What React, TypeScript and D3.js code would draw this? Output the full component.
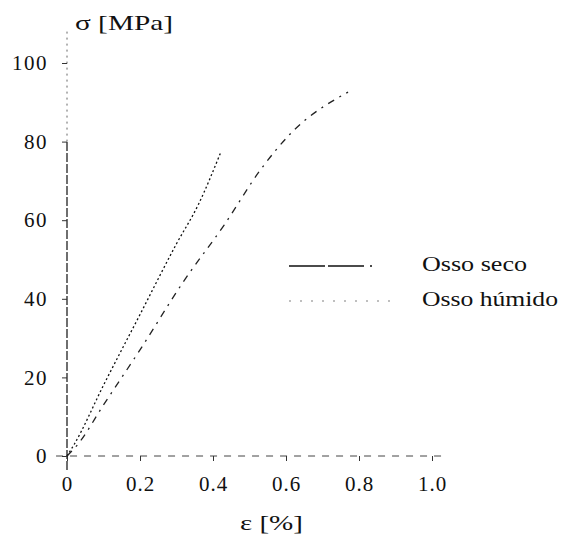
import { useEffect, useRef } from "react"
import * as d3 from "d3"

// strain ε [%] and stress σ [MPa]
const secoStrain = [0, 0.02, 0.1, 0.2, 0.3, 0.36, 0.42]
const secoStress = [0, 3, 18, 36, 54, 64, 77]
const humidoStrain = [0, 0.03, 0.1, 0.2, 0.32, 0.43, 0.53, 0.61, 0.77]
const humidoStress = [0, 3, 13, 27, 44.5, 58.7, 72.8, 81.8, 92.6]

const xTicks = [0, 0.2, 0.4, 0.6, 0.8, 1.0]
const yTicks = [0, 20, 40, 60, 80, 100]
const seriesNames = ["Osso seco", "Osso húmido"]

const W = 562
const H = 534
const FONT = "'Liberation Serif', 'Times New Roman', serif"

const App = () => {
  const svgRef = useRef<SVGSVGElement>(null)

  useEffect(() => {
    const svg = d3.select(svgRef.current)
    svg.selectAll("*").remove()

    const x = d3.scaleLinear().domain([0, 1]).range([67, 432])
    const y = d3.scaleLinear().domain([0, 100]).range([456, 63])

    const g = svg.append("g").style("font-family", FONT)

    // y axis (drawn by hand, scan look: dashed at the top)
    g.append("line")
      .attr("x1", x(0)).attr("x2", x(0))
      .attr("y1", y(0) + 14).attr("y2", y(80))
      .attr("stroke", "#222").attr("stroke-width", 1.3)
      .attr("stroke-dasharray", "9,2")
    g.append("line")
      .attr("x1", x(0)).attr("x2", x(0))
      .attr("y1", y(80)).attr("y2", y(108))
      .attr("stroke", "#666").attr("stroke-width", 1)
      .attr("stroke-dasharray", "2,4")

    // x axis line
    g.append("line")
      .attr("x1", x(-0.03)).attr("x2", x(1.04))
      .attr("y1", y(0)).attr("y2", y(0))
      .attr("stroke", "#444").attr("stroke-width", 1)
      .attr("stroke-dasharray", "7,7")

    const yAxis = g.append("g")
      .attr("transform", `translate(${x(0)},0)`)
      .call(d3.axisLeft(y).tickValues(yTicks).tickSize(5).tickPadding(14).tickFormat(d3.format("d")))
    yAxis.select(".domain").remove()
    yAxis.selectAll("line").attr("stroke", "#333")
    yAxis.selectAll("text")
      .attr("fill", "#111")
      .style("font-size", "21px")
      .style("letter-spacing", "1.5px")
      .style("font-family", FONT)

    const xAxis = g.append("g")
      .attr("transform", `translate(0,${y(0)})`)
      .call(d3.axisBottom(x).tickValues(xTicks).tickSize(5).tickPadding(15)
        .tickFormat((d) => (+d === 0 ? "0" : d3.format(".1f")(+d))))
    xAxis.select(".domain").remove()
    xAxis.selectAll("line").attr("stroke", "#333")
    xAxis.selectAll("text")
      .attr("fill", "#111")
      .style("font-size", "21px")
      .style("letter-spacing", "1px")
      .style("font-family", FONT)

    // axis titles
    g.append("text")
      .attr("x", 75).attr("y", 30)
      .style("font-size", "22px")
      .attr("fill", "#111")
      .attr("textLength", 98)
      .attr("lengthAdjust", "spacingAndGlyphs")
      .text("σ  [MPa]")
    g.append("text")
      .attr("x", 240).attr("y", 530)
      .style("font-size", "20px")
      .attr("fill", "#111")
      .attr("textLength", 63)
      .attr("lengthAdjust", "spacingAndGlyphs")
      .text("ε  [%]")

    const line = d3.line<[number, number]>()
      .x((d) => x(d[0]))
      .y((d) => y(d[1]))
      .curve(d3.curveMonotoneX)

    const seco = secoStrain.map((e, i) => [e, secoStress[i]] as [number, number])
    const humido = humidoStrain.map((e, i) => [e, humidoStress[i]] as [number, number])

    g.append("path")
      .datum(seco)
      .attr("fill", "none")
      .attr("stroke", "#111")
      .attr("stroke-width", 1.3)
      .attr("stroke-dasharray", "2,2.5")
      .attr("d", line)

    g.append("path")
      .datum(humido)
      .attr("fill", "none")
      .attr("stroke", "#222")
      .attr("stroke-width", 1.3)
      .attr("stroke-dasharray", "7,6,2,6")
      .attr("d", line)

    // legend
    const legend = g.append("g")
    const legendY = [266, 301]
    const legendDash = ["36,3,36,6,2,5,2,5", "2,9"]
    const legendColor = ["#111", "#aaa"]
    const legendTextLen = [105, 136]
    seriesNames.forEach((name, i) => {
      legend.append("line")
        .attr("x1", 289).attr("x2", i === 0 ? 372 : 398)
        .attr("y1", legendY[i]).attr("y2", legendY[i])
        .attr("stroke", legendColor[i])
        .attr("stroke-width", 1.4)
        .attr("stroke-dasharray", legendDash[i])
      legend.append("text")
        .attr("x", 422).attr("y", legendY[i] + 5)
        .style("font-size", "20px")
        .attr("fill", "#111")
        .attr("textLength", legendTextLen[i])
        .attr("lengthAdjust", "spacingAndGlyphs")
        .text(name)
    })
  }, [])

  return (
    <svg
      ref={svgRef}
      width={W}
      height={H}
      style={{ position: "absolute", left: 0, top: 0, display: "block", background: "#fff" }}
    ></svg>
  )
}

export default App
